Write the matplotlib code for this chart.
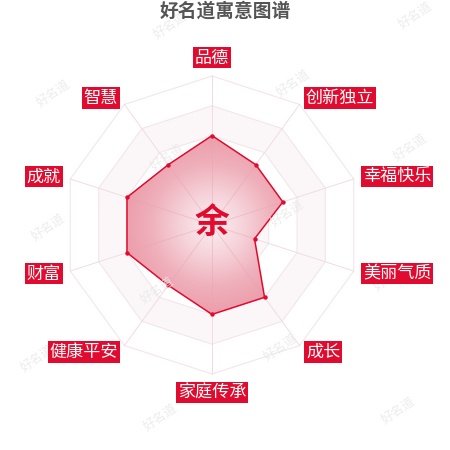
import numpy as np
import matplotlib
matplotlib.use("Agg")
import matplotlib.pyplot as plt
from matplotlib.patches import Polygon
from matplotlib.colors import LinearSegmentedColormap

plt.rcParams['font.family'] = ['Noto Sans CJK SC', 'DejaVu Sans']

# ---- data ----
title = "好名道寓意图谱"
center_char = "余"
categories = ["品德", "创新独立", "幸福快乐", "美丽气质", "成长",
              "家庭传承", "健康平安", "财富", "成就", "智慧"]
values = [60, 50, 50, 30, 60, 60, 50, 60, 60, 50]
max_value = 100
levels = [20, 40, 60, 80, 100]
watermark = "好名道"

RED = "#e00b2e"

W = H = 450
fig = plt.figure(figsize=(4.5, 4.5), dpi=100)
ax = fig.add_axes([0, 0, 1, 1])
px = 1.49  # pixels per unit
cx, cy = 212, 225
ax.set_xlim(-cx / px, (W - cx) / px)
ax.set_ylim(-(H - cy) / px, cy / px)
ax.axis("off")

n = len(categories)
theta = np.arange(n) * 2 * np.pi / n
sx, sy = np.sin(theta), np.cos(theta)

# split area bands
band_cols = ["#ffffff", "#fbf7f8", "#ffffff", "#fbf7f8", "#ffffff"]
for i in range(len(levels) - 1, -1, -1):
    lv = levels[i]
    ax.add_patch(Polygon(np.c_[sx * lv, sy * lv], closed=True,
                         facecolor=band_cols[i], edgecolor="none", zorder=0))
# grid rings
for lv in levels:
    xs = np.r_[sx * lv, sx[0] * lv]
    ys = np.r_[sy * lv, sy[0] * lv]
    ax.plot(xs, ys, color="#f3e6e9", lw=0.8, zorder=1)
# spokes
for i in range(n):
    ax.plot([0, sx[i] * max_value], [0, sy[i] * max_value],
            color="#f1dce1", lw=0.7, zorder=1)

# data polygon with radial gradient
v = np.array(values, dtype=float)
pts = np.c_[sx * v, sy * v]
poly = Polygon(pts, closed=True, facecolor="none", edgecolor="none", zorder=2)
ax.add_patch(poly)
g = np.linspace(-100, 100, 400)
gx, gy = np.meshgrid(g, g)
rr = np.clip(np.hypot(gx, gy) / 62.0, 0, 1)
cmap = LinearSegmentedColormap.from_list(
    "pk", ["#fbf0f2", "#f6d3da", "#efb0bb", "#eb9ba9"])
im = ax.imshow(rr, extent=[-100, 100, -100, 100], origin="lower",
               cmap=cmap, vmin=0, vmax=1, zorder=2, interpolation="bilinear")
im.set_clip_path(poly)
# spokes over fill (faint)
for i in range(n):
    ax.plot([0, sx[i] * v[i]], [0, sy[i] * v[i]],
            color="#e7a3b0", lw=0.6, zorder=3, alpha=0.5)
ax.plot(np.r_[pts[:, 0], pts[0, 0]], np.r_[pts[:, 1], pts[0, 1]],
        color=RED, lw=1.1, zorder=4)
ax.scatter(pts[:, 0], pts[:, 1], s=10, color=RED, zorder=5, linewidths=0)

# watermarks (under labels)
wm_pos = [(53, 93), (170, 25), (415, 15), (293, 83), (410, 147), (167, 157),
          (287, 213), (48, 227), (157, 290), (390, 277), (280, 347),
          (37, 358), (160, 417), (398, 410)]
for (wx, wy) in wm_pos:
    ax.text(wx / W, 1 - wy / H, watermark, ha="center", va="center",
            fontsize=9, rotation=35, color="#e8e8e8", alpha=0.8, zorder=5.5,
            transform=fig.transFigure)

# center char
ax.text(0, 1.5, center_char, ha="center", va="center", fontsize=25,
        fontweight="bold", color=RED, zorder=6)

# labels
fs = 12.3
padf = 0.1
pad_u = padf * fs / 72 * 100 / px
rl = 157 / px
for i, name in enumerate(categories):
    x, y = sx[i] * rl, sy[i] * rl
    if abs(sx[i]) < 1e-6:
        ha = "center"
        va = "bottom" if sy[i] > 0 else "top"
        y += pad_u if sy[i] > 0 else -pad_u
    else:
        va = "center"
        if sx[i] > 0:
            ha = "left"
            x += pad_u
        else:
            ha = "right"
            x -= pad_u
    ax.text(x, y, name, ha=ha, va=va, fontsize=fs, color="white", zorder=7,
            bbox=dict(boxstyle=f"square,pad={padf}", facecolor=RED,
                      edgecolor="none"))

# title
fig.text(0.5, 1 - 11 / H, title, ha="center", va="center", fontsize=13.5,
         fontweight="bold", color="#555555")

fig.savefig("out.png", dpi=100)
